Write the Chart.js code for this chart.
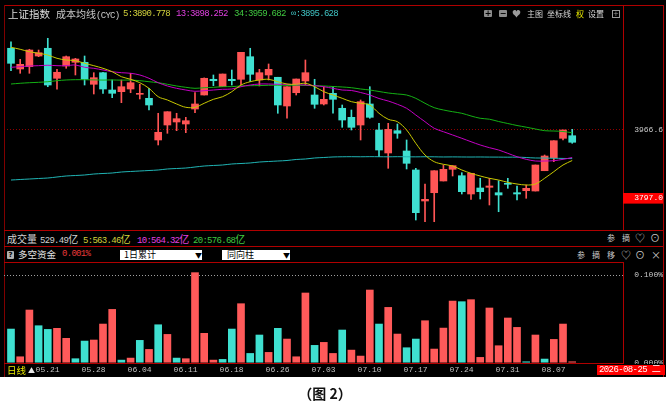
<!DOCTYPE html>
<html>
<head>
<meta charset="utf-8">
<script src="https://cdn.jsdelivr.net/npm/chart.js@4.4.1/dist/chart.umd.min.js"></script>
<style>
html, body { margin: 0; padding: 0; background: #fff; width: 669px; height: 416px; overflow: hidden; }
#panel { position: absolute; left: 0; top: 0; width: 666px; height: 377px; background: #000; }
.ln { position: absolute; background: #b00000; }
.t { position: absolute; white-space: nowrap; font: 10px/12px "Noto Sans CJK SC"; color: #d0d0d0; }
.m { font-family: "Liberation Mono"; font-size: 9px; letter-spacing: -0.7px; }
.s { font-size: 8px; color: #c8c8c8; }
.ic { position: absolute; background: #8c8c8c; color: #000; font: bold 8px/7px "DejaVu Sans"; text-align: center; border-radius: 1px; }
.dd { position: absolute; background: #fff; color: #000; font: 9px/10px "Noto Sans CJK SC"; height: 10px; }
canvas { position: absolute; }
</style>
</head>
<body>
<div id="panel"></div>

<!-- frame lines -->
<div class="ln" style="left:4px;top:5px;width:660px;height:1px"></div>
<div class="ln" style="left:4px;top:5px;width:1px;height:372px;background:#800000"></div>
<div class="ln" style="left:623px;top:5px;width:1px;height:225px"></div>
<div class="ln" style="left:663px;top:5px;width:1px;height:372px"></div>
<div class="ln" style="left:4px;top:230px;width:660px;height:1px"></div>
<div class="ln" style="left:4px;top:246px;width:660px;height:1px"></div>
<div class="ln" style="left:4px;top:262px;width:620px;height:1px"></div>
<div class="ln" style="left:623px;top:262px;width:1px;height:101px"></div>
<div class="ln" style="left:4px;top:363px;width:620px;height:1px"></div>

<canvas id="price" width="659" height="223" style="left:4px;top:7px"></canvas>
<canvas id="fund" width="659" height="114" style="left:4px;top:263px"></canvas>

<!-- main header -->
<span class="t" style="left:8px;top:8px;color:#dcdcdc;font-size:10.5px">上证指数</span>
<span class="t" style="left:56px;top:8px;color:#c8c8c8">成本均线<span class="m">(CYC)</span></span>
<span class="t m" style="left:123px;top:8px;color:#d2d23c">5:3890.778</span>
<span class="t m" style="left:176px;top:8px;color:#e040e0">13:3898.252</span>
<span class="t m" style="left:234px;top:8px;color:#40c840">34:3959.682</span>
<span class="t m" style="left:291px;top:8px;color:#40c4c4">∞:3895.628</span>

<span class="ic" style="left:484px;top:10px;width:8px;height:7px">+</span>
<span class="ic" style="left:499px;top:10px;width:8px;height:7px">−</span>
<span class="t s" style="left:512px;top:8px;color:#9a9a9a;font-size:9px">♥</span>
<span class="t s" style="left:527px;top:8px;color:#d8d8d8">主图</span>
<span class="t s" style="left:547px;top:8px;color:#d8d8d8">坐标线</span>
<span class="t s" style="left:576px;top:8px;color:#e8e800">权</span>
<span class="t s" style="left:588px;top:8px;color:#d8d8d8">设置</span>
<span style="position:absolute;left:612px;top:10px;width:6px;height:6px;border:1px solid #9a9a9a;color:#9a9a9a;font:7px/6px 'DejaVu Sans';text-align:center">+</span>

<!-- volume row -->
<span class="t" style="left:7px;top:233px;color:#d0d0d0">成交量</span>
<span class="t" style="left:40px;top:233px;color:#d0d0d0"><span class="m">529.49</span>亿</span>
<span class="t" style="left:83px;top:233px;color:#d2d23c"><span class="m">5:563.46</span>亿</span>
<span class="t" style="left:137px;top:233px;color:#e040e0"><span class="m">10:564.32</span>亿</span>
<span class="t" style="left:193px;top:233px;color:#40c840"><span class="m">20:576.68</span>亿</span>
<span class="t s" style="left:607px;top:232px">参</span>
<span class="t s" style="left:622px;top:232px">摘</span>
<span class="t s" style="left:635px;top:232px;font-size:10px">♡</span>
<span class="t s" style="left:650px;top:232px;font-size:10px">⊙</span>

<!-- fund row -->
<span class="ic" style="left:7px;top:251px;width:7px;height:8px;background:#b0b0b0;line-height:8px;font-size:7px">?</span>
<span class="t" style="left:18px;top:248px;color:#e0e0e0;font-size:9.5px">多空资金</span>
<span class="t m" style="left:62px;top:248px;color:#e83a3a">0.001%</span>
<div class="dd" style="left:120px;top:250px;width:82px"><span style="margin-left:4px">1日累计</span><span style="position:absolute;left:75px;font-size:7px">▼</span></div>
<div class="dd" style="left:222px;top:250px;width:68px"><span style="margin-left:5px">同向柱</span><span style="position:absolute;left:61px;font-size:7px">▼</span></div>
<span class="t s" style="left:577px;top:249px">参</span>
<span class="t s" style="left:592px;top:249px">摘</span>
<span class="t s" style="left:607px;top:249px">移</span>
<span class="t s" style="left:621px;top:249px;font-size:10px">♡</span>
<span class="t s" style="left:635px;top:249px;font-size:10px">⊙</span>
<span class="t s" style="left:651px;top:249px;font-size:10px">×</span>

<!-- bottom strip -->
<span class="t" style="left:7px;top:364px;color:#e8e800;font-size:9.5px">日线</span>
<span class="t" style="left:28px;top:364px;color:#e8e8e8;font-size:7px">▲</span>
<div style="position:absolute;left:624px;top:364px;width:39px;height:13px;background:#000"></div>
<div style="position:absolute;left:597px;top:365px;width:68px;height:10px;background:#ff0000;color:#fff;font:9px/10px 'Liberation Mono','Noto Sans CJK SC';letter-spacing:-0.6px;white-space:nowrap;padding-left:2px;box-sizing:border-box">2026-08-25 二</div>

<div style="position:absolute;left:0;top:384px;width:650px;text-align:center;font:bold 14px/18px 'Noto Sans CJK SC';color:#111">（图 2）</div>

<script>
// trading days shown on the chart
const dates = ['05.18','05.19','05.20','05.21','05.22','05.25','05.26','05.27','05.28','05.29',
  '06.01','06.02','06.03','06.04','06.05','06.08','06.09','06.10','06.11','06.12',
  '06.15','06.16','06.17','06.18','06.22','06.23','06.24','06.25','06.26','06.29',
  '06.30','07.01','07.02','07.03','07.06','07.07','07.08','07.09','07.10','07.13',
  '07.14','07.15','07.16','07.17','07.20','07.21','07.22','07.23','07.24','07.27',
  '07.28','07.29','07.30','07.31','08.03','08.04','08.05','08.06','08.07','08.10',
  '08.11','08.12'];
const tickLabels = ['05.21','05.28','06.04','06.11','06.18','06.26','07.03','07.10','07.17','07.24','07.31','08.07'];

// 上证指数 daily candles
const opens = [4169.5,4118.1,4123.8,4150.3,4169.5,4095.0,4125.5,4134.7,4134.7,4080.1,
  4108.9,4065.9,4061.7,4068.4,4055.2,4045.3,3941.8,3979.0,3986.5,3981.5,
  4018.7,4053.5,4092.5,4074.1,4092.5,4092.5,4148.6,4090.8,4103.2,4097.5,
  4026.2,4059.2,4088.3,4053.5,4031.2,4057.7,4020.5,3998.1,3979.0,4031.2,
  3966.6,3909.5,3964.9,3914.5,3867.3,3790.3,3810.9,3840.0,3869.0,3853.1,
  3807.7,3822.6,3824.3,3810.9,3834.3,3810.9,3815.9,3815.1,3865.5,3897.8,
  3946.0,3952.4];
const highs = [4185.8,4142.1,4167.0,4165.2,4194.3,4117.3,4150.3,4144.6,4150.3,4108.9,
  4110.0,4090.8,4090.8,4107.4,4080.1,4070.1,4008.1,4012.0,4008.1,3998.1,
  4059.2,4096.0,4103.2,4105.6,4115.6,4159.5,4169.5,4117.3,4130.5,4097.5,
  4074.1,4093.2,4140.4,4092.5,4074.1,4074.1,4028.7,4016.3,4041.1,4074.1,
  3983.2,3983.2,3981.5,3941.8,3871.5,3832.5,3865.5,3879.7,3878.0,3860.6,
  3859.1,3846.7,3846.7,3840.7,3846.7,3827.6,3830.0,3879.7,3904.5,3940.0,
  3966.6,3968.3];
const lows = [4113.8,4107.4,4107.4,4148.6,4074.1,4067.7,4119.8,4103.2,4078.3,4056.0,
  4057.7,4046.8,4034.4,4059.2,4043.6,4016.3,3929.4,3958.4,3964.9,3959.9,
  4009.6,4053.5,4076.6,4074.1,4078.3,4078.3,4086.5,4075.9,4090.8,4008.1,
  3995.7,4053.5,4078.3,4020.5,4028.7,4008.1,3973.3,3966.6,3941.8,3995.7,
  3900.3,3871.5,3946.0,3869.8,3743.1,3738.9,3738.9,3840.0,3852.4,3807.7,
  3794.5,3795.3,3780.4,3763.7,3821.8,3792.8,3797.0,3815.1,3865.5,3887.9,
  3941.8,3933.6];
const closes = [4132.2,4129.7,4165.2,4158.5,4078.3,4109.9,4148.6,4142.9,4092.5,4096.5,
  4068.4,4057.7,4074.1,4084.0,4057.7,4028.7,3960.9,4012.0,3994.7,3989.7,
  4031.2,4095.0,4089.0,4105.6,4089.0,4159.5,4104.9,4108.9,4117.3,4028.7,
  4074.1,4093.2,4108.9,4030.4,4042.8,4042.8,3991.4,3973.3,4036.9,3998.1,
  3916.9,3968.3,3958.4,3883.9,3761.3,3794.5,3865.5,3869.0,3878.0,3813.4,
  3859.1,3813.4,3827.6,3805.2,3831.8,3807.7,3821.8,3879.7,3902.0,3940.0,
  3966.6,3936.1];

// 成本均线 CYC 5 / 13 / 34 / ∞
const cyc5 = [4171.9,4167.0,4161.0,4157.0,4152.8,4144.6,4140.4,4138.7,4132.2,4126.3,
  4119.8,4111.4,4098.9,4092.5,4084.0,4070.1,4049.3,4041.1,4031.2,4023.0,
  4023.0,4032.9,4042.8,4049.3,4061.7,4078.3,4086.5,4090.8,4092.5,4086.5,
  4080.8,4080.1,4082.6,4074.1,4061.7,4053.5,4045.3,4036.9,4032.9,4028.7,
  4008.1,3993.2,3987.2,3966.6,3933.6,3904.5,3887.9,3881.4,3877.2,3867.3,
  3859.1,3852.4,3846.7,3842.4,3836.7,3832.5,3830.0,3832.5,3846.7,3863.1,
  3879.7,3890.8];
const cyc13 = [4122.3,4123.8,4125.5,4126.3,4127.3,4126.3,4126.3,4128.0,4122.3,4119.8,
  4115.6,4111.4,4108.9,4107.4,4103.2,4095.0,4084.0,4075.9,4070.1,4065.9,
  4062.7,4064.2,4065.9,4067.7,4068.4,4074.1,4078.3,4080.8,4080.8,4080.1,
  4080.1,4079.1,4078.3,4076.6,4074.1,4070.1,4065.9,4064.7,4059.7,4053.5,
  4044.8,4038.6,4030.4,4020.5,4003.8,3987.2,3970.8,3962.4,3954.2,3946.0,
  3937.5,3929.4,3922.7,3916.9,3908.7,3900.3,3893.8,3889.6,3889.6,3890.4,
  3893.8,3898.3];
const cyc34 = [4080.8,4082.6,4084.0,4085.0,4086.5,4089.0,4090.8,4091.5,4091.4,4091.0,
  4090.6,4090.9,4090.4,4090.6,4089.0,4086.5,4084.0,4080.1,4075.9,4072.6,
  4070.1,4071.6,4072.6,4074.1,4074.3,4075.9,4076.6,4076.9,4077.6,4077.8,
  4077.4,4077.7,4077.3,4076.6,4075.9,4074.6,4073.4,4071.6,4068.4,4065.9,
  4062.2,4058.5,4056.0,4053.5,4045.3,4032.9,4022.0,4016.3,4012.0,4008.1,
  4001.4,3995.7,3993.4,3987.7,3982.7,3977.8,3973.6,3969.1,3964.9,3964.1,
  3962.9,3959.7];
const cycInf = [3842.4,3843.7,3844.9,3846.2,3847.4,3849.9,3852.4,3853.6,3854.9,3857.3,
  3858.6,3859.8,3862.3,3863.6,3864.8,3866.0,3867.3,3869.8,3871.0,3872.2,
  3874.7,3877.2,3878.5,3879.7,3882.2,3883.4,3884.7,3887.1,3888.4,3889.6,
  3890.9,3893.4,3894.6,3897.1,3898.3,3899.6,3900.1,3900.3,3900.1,3900.4,
  3900.2,3900.0,3900.3,3900.1,3899.9,3900.2,3900.0,3899.6,3899.8,3899.6,
  3899.5,3899.6,3899.4,3899.3,3899.1,3899.2,3898.3,3897.1,3897.0,3896.4,
  3896.0,3895.6];
const priceMarks = [3966.6, 3797.0];

// 多空资金 (%), 1 = inflow (red), 0 = outflow (cyan)
const fund = [0.0384,0.0068,0.0601,0.0422,0.0380,0.0392,0.0278,0.0046,0.0247,0.0259,
  0.0441,0.0608,0.0030,0.0053,0.0255,0.0152,0.0433,0.0323,0.0053,0.0046,
  0.1027,0.0335,0.0030,0.0038,0.0384,0.0673,0.0106,0.0316,0.0118,0.0392,
  0.0270,0.0068,0.0795,0.0198,0.0232,0.0106,0.0373,0.0144,0.0076,0.0829,
  0.0441,0.0631,0.0327,0.0171,0.0270,0.0479,0.0156,0.0395,0.0703,0.0696,
  0.0719,0.0061,0.0624,0.0194,0.0510,0.0403,0.0011,0.0316,0.0042,0.0266,
  0.0441,0.0011];
const fundIn = [0,1,1,0,0,1,1,0,0,1, 1,1,0,1,0,1,0,1,0,1, 1,1,1,0,0,1,0,0,1,0,
  1,1,1,0,1,1,0,1,1,1, 0,1,1,0,0,1,1,1,1,0, 1,1,1,1,1,1,0,1,0,1, 1,1];
const fundMarks = [0, 0.1];

const RED = '#ff5555', CYAN = '#3fe0d0';
const MONO = 'Liberation Mono';
const X_MIN = -0.76, X_MAX = 66.52;

Chart.defaults.font.family = MONO;
Chart.defaults.font.size = 8;

const pts = arr => arr.map((v, i) => ({x: i, y: v}));
const candleColor = closes.map((c, i) => c >= opens[i] ? RED : CYAN);
const line = (arr, color) => ({
  type: 'line', data: pts(arr), borderColor: color, borderWidth: 1,
  pointRadius: 0, tension: 0.35, order: 0
});
const fixAxis = width => s => { s.width = width; s.paddingTop = 0; s.paddingBottom = 0; };

// width of the red price label, so its box fills the axis strip
const mctx = document.createElement('canvas').getContext('2d');
mctx.font = '8px "' + MONO + '"';
const redW = mctx.measureText(priceMarks[1].toFixed(1)).width;

const common = {
  responsive: false, animation: false, events: [],
  layout: {padding: 0},
  plugins: {legend: {display: false}, tooltip: {enabled: false}}
};

new Chart(document.getElementById('price'), {
  type: 'bar',
  data: {
    datasets: [
      line(cyc5, '#c8c800'),
      line(cyc13, '#c400c4'),
      line(cyc34, '#14b014'),
      line(cycInf, '#20b4b4'),
      {label: 'wick', data: lows.map((v, i) => ({x: i, y: [v, highs[i]]})),
        backgroundColor: candleColor, barThickness: 1, grouped: false, order: 2},
      {label: 'body', data: opens.map((v, i) => ({x: i, y: [v, closes[i]]})),
        backgroundColor: candleColor, barThickness: 7, minBarLength: 1, grouped: false, order: 1}
    ]
  },
  options: {
    ...common,
    scales: {
      x: {type: 'linear', min: X_MIN, max: X_MAX, offset: false, bounds: 'data', display: false},
      y: {
        position: 'right', min: 3718.3, max: 4272.0, bounds: 'data',
        afterBuildTicks: s => { s.ticks = priceMarks.map(v => ({value: v})); },
        afterFit: fixAxis(40),
        ticks: {
          callback: v => v.toFixed(1), crossAlign: 'far', autoSkip: false,
          color: c => c.index === 1 ? '#ffffff' : '#c8c8c8',
          showLabelBackdrop: true,
          backdropColor: c => c.index === 1 ? '#ff0000' : 'rgba(0,0,0,0)',
          backdropPadding: {left: 40 - redW, right: 0, top: 0.5, bottom: 0.5}
        },
        grid: {color: c => c.index === 0 ? '#900000' : 'rgba(0,0,0,0)', drawTicks: false},
        border: {display: false, dash: [1, 2]}
      }
    }
  }
});

new Chart(document.getElementById('fund'), {
  type: 'bar',
  data: {
    datasets: [{
      label: '多空资金', data: pts(fund),
      backgroundColor: fundIn.map(f => f ? '#ff5a5a' : CYAN), barThickness: 7
    }]
  },
  options: {
    ...common,
    scales: {
      x: {
        type: 'linear', min: X_MIN, max: X_MAX, offset: false, bounds: 'data',
        afterBuildTicks: s => { s.ticks = tickLabels.map(l => ({value: dates.indexOf(l)})); },
        afterFit: s => { s.height = 14; s.paddingLeft = 0; s.paddingRight = 0; },
        ticks: {
          callback: v => dates[v], align: 'start', labelOffset: -3, maxRotation: 0,
          autoSkip: false, padding: 2.5, color: '#c0c0c0'
        },
        grid: {display: false, drawTicks: false},
        border: {display: false}
      },
      y: {
        position: 'right', min: -0.0003, max: 0.1137, bounds: 'data',
        afterBuildTicks: s => { s.ticks = fundMarks.map(v => ({value: v})); },
        afterFit: fixAxis(40),
        ticks: {callback: v => v.toFixed(3) + '%', crossAlign: 'far', autoSkip: false, color: '#c8c8c8'},
        grid: {color: c => c.tick && c.tick.value > 0 ? '#a0a0a0' : 'rgba(0,0,0,0)', drawTicks: false},
        border: {display: false, dash: [1, 2]}
      }
    }
  }
});
</script>
</body>
</html>
